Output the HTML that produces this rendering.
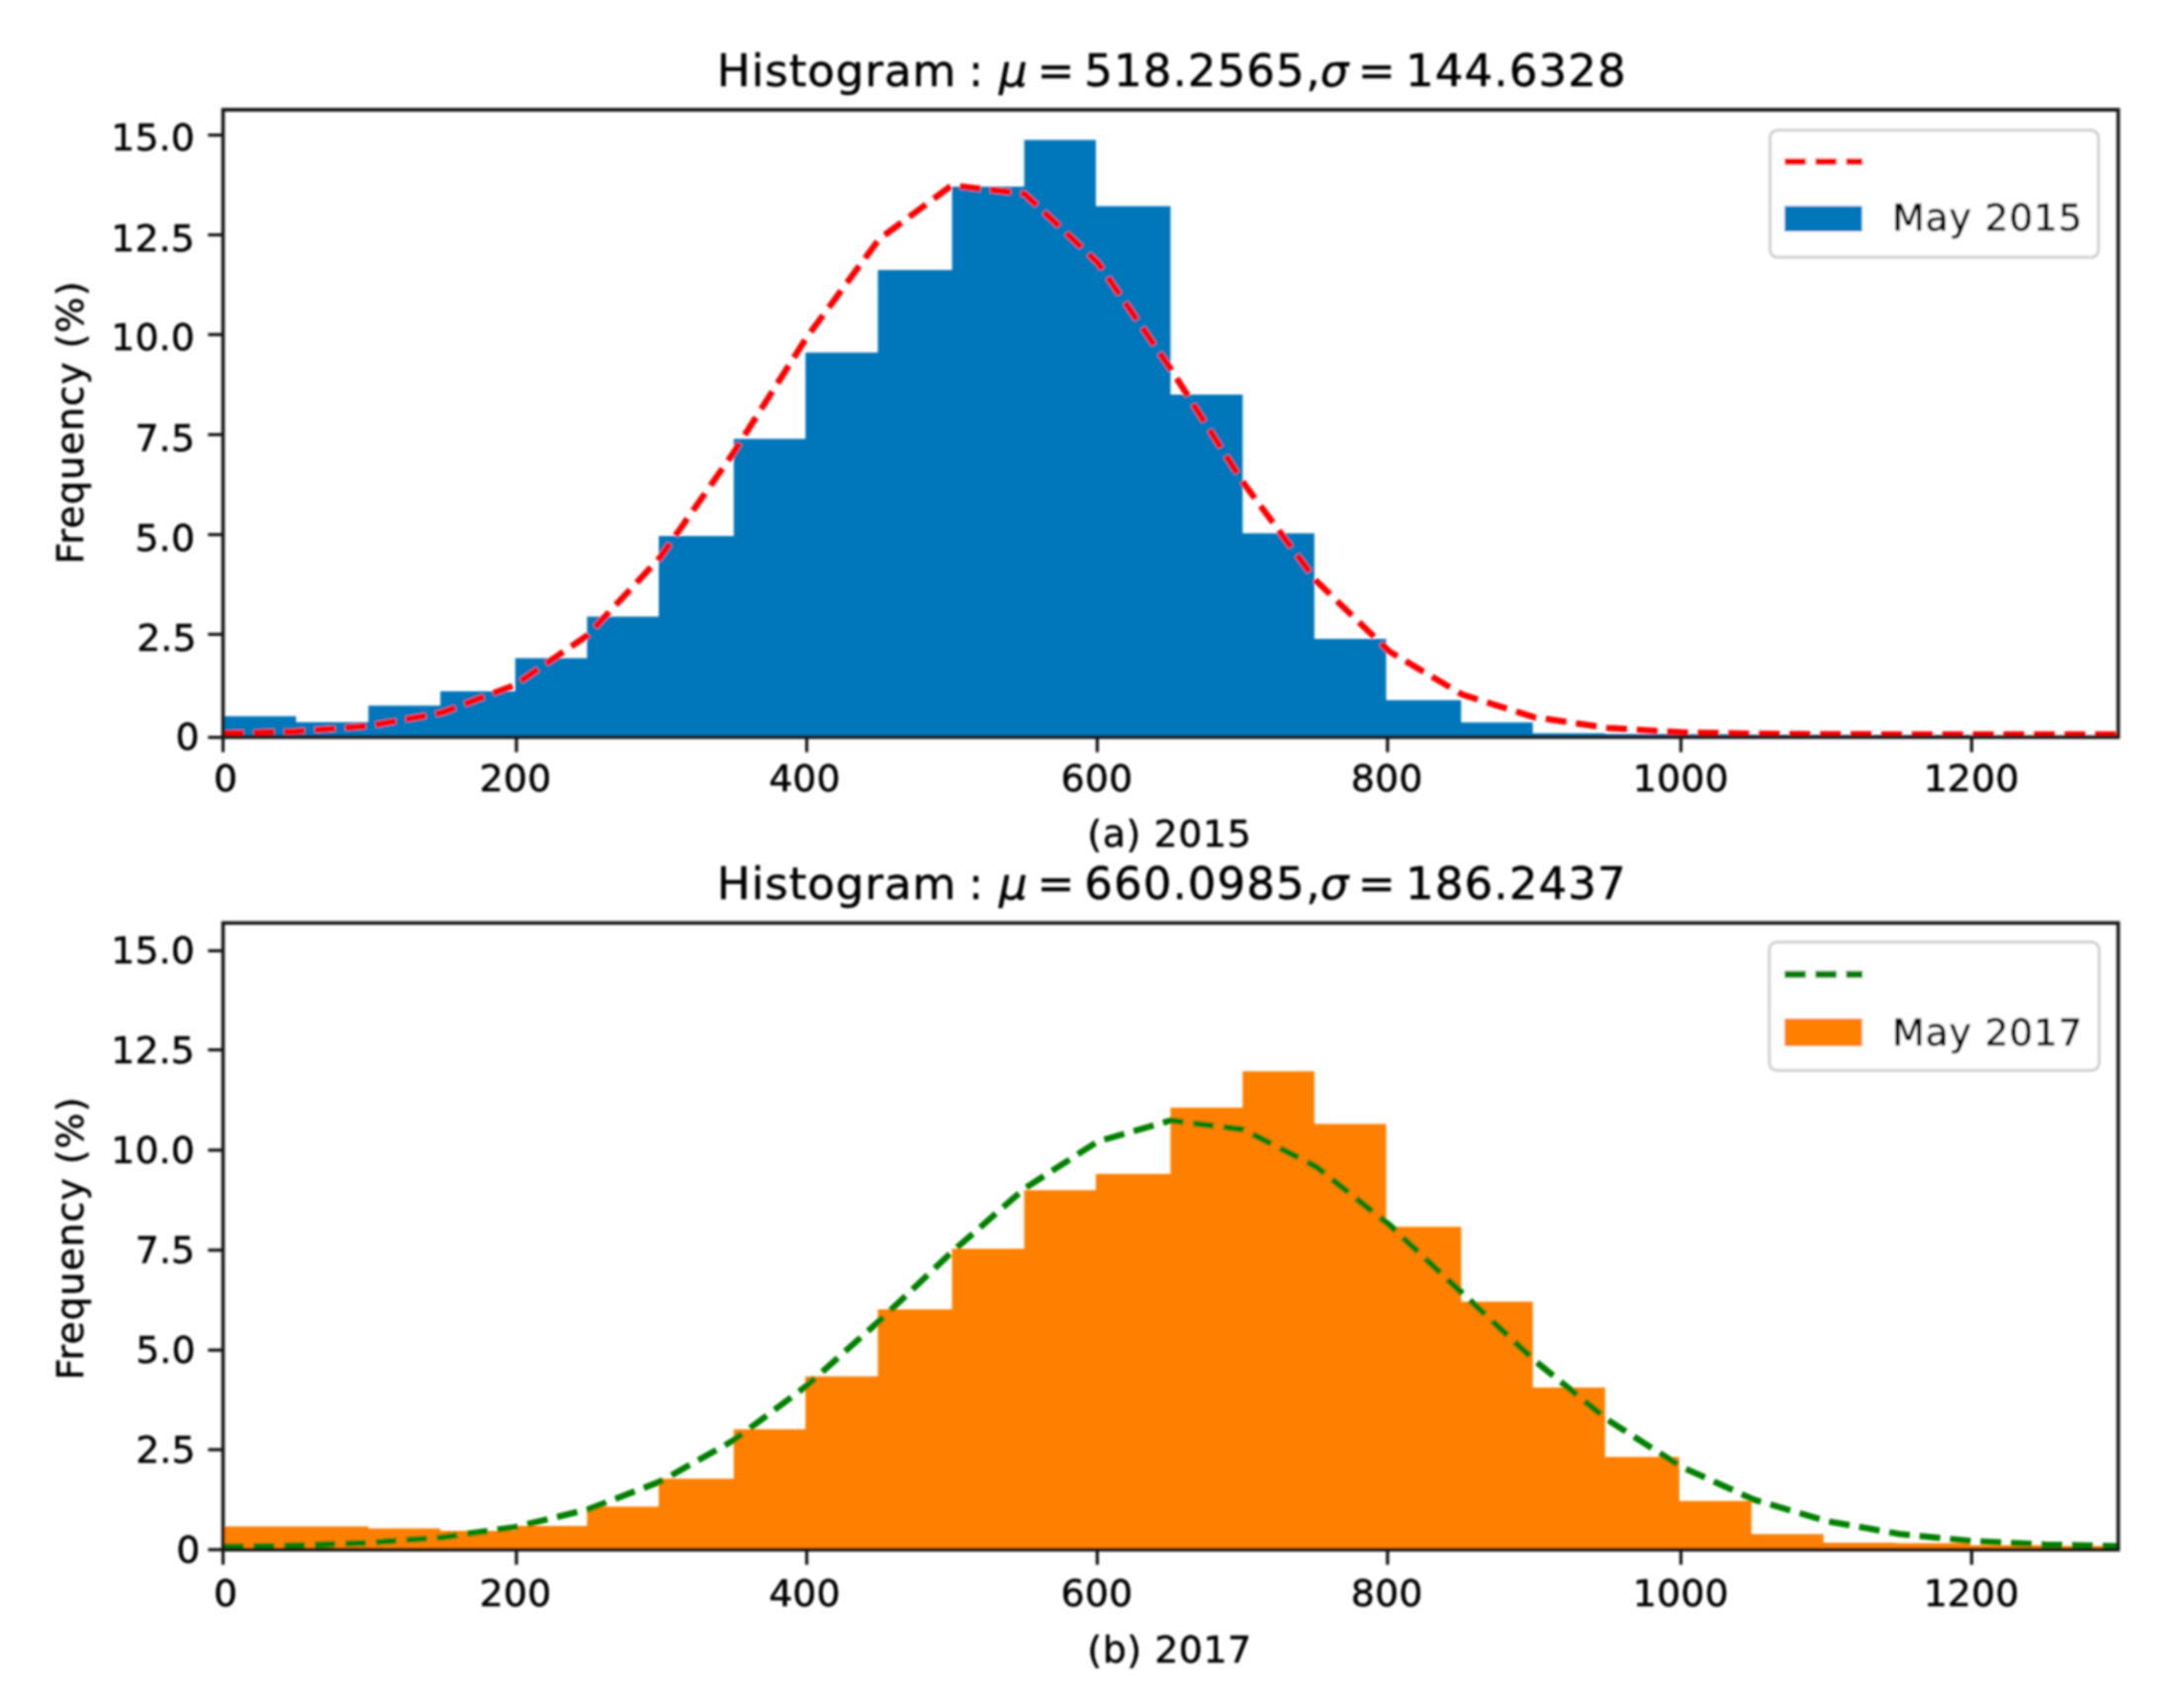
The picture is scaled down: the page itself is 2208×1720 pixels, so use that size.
<!DOCTYPE html>
<html lang="en"><head><meta charset="utf-8"><title>Histogram 2015 vs 2017</title>
<style>
html,body{margin:0;padding:0;background:#fff;}
body{width:2208px;height:1720px;overflow:hidden;}
svg{display:block;}
svg text{font-family:"DejaVu Sans", "Liberation Sans", sans-serif;stroke:#000;stroke-width:0.5px;stroke-linejoin:round;}
</style></head><body>
<svg width="2208" height="1720" viewBox="0 0 2208 1720" font-family='"DejaVu Sans", "Liberation Sans", sans-serif' fill="#000000">
<defs><filter id="soft" x="0" y="0" width="2208" height="1720" filterUnits="userSpaceOnUse"><feGaussianBlur stdDeviation="0.85"/></filter></defs>
<rect width="2208" height="1720" fill="#ffffff"/>
<g filter="url(#soft)">
<clipPath id="clipa"><rect x="225.5" y="111.0" width="1916.00" height="634.40"/></clipPath>
<polygon clip-path="url(#clipa)" fill="#0077bb" points="225.5,745.4 225.5,724.3 299.3,724.3 299.3,730.3 372.4,730.3 372.4,713.5 445.2,713.5 445.2,699.1 520.9,699.1 520.9,665.6 593.5,665.6 593.5,623.6 666.0,623.6 666.0,542.0 741.8,542.0 741.8,443.7 814.3,443.7 814.3,356.6 887.5,356.6 887.5,272.9 962.5,272.9 962.5,188.7 1035.5,188.7 1035.5,141.4 1107.9,141.4 1107.9,208.4 1183.4,208.4 1183.4,399.0 1256.3,399.0 1256.3,539.3 1328.8,539.3 1328.8,646.1 1401.4,646.1 1401.4,707.9 1477.2,707.9 1477.2,730.4 1549.6,730.4 1549.6,741.4 1622.7,741.4 1622.7,742.2 1697.7,742.2 1697.7,742.6 1770.7,742.6 1770.7,743.0 1843.5,743.0 1843.5,743.3 1916.3,743.3 1916.3,743.6 1991.8,743.6 1991.8,745.4 2064.6,745.4 2064.6,745.4 2141.5,745.4 2141.5,745.4"/>
<polyline clip-path="url(#clipa)" fill="none" stroke="#ff0000" stroke-width="6.3" stroke-dasharray="21 9.9" stroke-linejoin="round" points="225.50,741.69 299.19,739.64 372.88,734.05 446.58,720.71 520.27,692.87 593.96,642.37 667.65,563.33 741.35,458.07 815.04,341.89 888.73,241.83 962.42,187.29 1036.12,196.17 1109.81,265.47 1183.50,372.92 1257.19,488.43 1330.88,587.54 1404.58,658.66 1478.27,702.27 1551.96,725.41 1625.65,736.10 1699.35,740.42 1773.04,741.95 1846.73,742.43 1920.42,742.56 1994.12,742.59 2067.81,742.60 2141.50,742.60"/>
<line x1="225.50" y1="745.4" x2="225.50" y2="760.60" stroke="#141414" stroke-width="3.2"/>
<text x="228.05" y="800.20" font-size="37.9" letter-spacing="0.1" text-anchor="middle">0</text>
<line x1="522.10" y1="745.4" x2="522.10" y2="760.60" stroke="#141414" stroke-width="3.2"/>
<text x="521.05" y="800.20" font-size="37.9" letter-spacing="0.1" text-anchor="middle">200</text>
<line x1="815.60" y1="745.4" x2="815.60" y2="760.60" stroke="#141414" stroke-width="3.2"/>
<text x="813.45" y="800.20" font-size="37.9" letter-spacing="0.1" text-anchor="middle">400</text>
<line x1="1109.30" y1="745.4" x2="1109.30" y2="760.60" stroke="#141414" stroke-width="3.2"/>
<text x="1108.85" y="800.20" font-size="37.9" letter-spacing="0.1" text-anchor="middle">600</text>
<line x1="1402.80" y1="745.4" x2="1402.80" y2="760.60" stroke="#141414" stroke-width="3.2"/>
<text x="1402.05" y="800.20" font-size="37.9" letter-spacing="0.1" text-anchor="middle">800</text>
<line x1="1699.40" y1="745.4" x2="1699.40" y2="760.60" stroke="#141414" stroke-width="3.2"/>
<text x="1699.25" y="800.20" font-size="37.9" letter-spacing="0.1" text-anchor="middle">1000</text>
<line x1="1993.30" y1="745.4" x2="1993.30" y2="760.60" stroke="#141414" stroke-width="3.2"/>
<text x="1993.05" y="800.20" font-size="37.9" letter-spacing="0.1" text-anchor="middle">1200</text>
<line x1="210.30" y1="136.60" x2="225.5" y2="136.60" stroke="#141414" stroke-width="3.2"/>
<text x="197.10" y="152.20" font-size="37.9" letter-spacing="0.1" text-anchor="end">15.0</text>
<line x1="210.30" y1="237.50" x2="225.5" y2="237.50" stroke="#141414" stroke-width="3.2"/>
<text x="197.10" y="253.50" font-size="37.9" letter-spacing="0.1" text-anchor="end">12.5</text>
<line x1="210.30" y1="338.30" x2="225.5" y2="338.30" stroke="#141414" stroke-width="3.2"/>
<text x="197.10" y="354.40" font-size="37.9" letter-spacing="0.1" text-anchor="end">10.0</text>
<line x1="210.30" y1="439.50" x2="225.5" y2="439.50" stroke="#141414" stroke-width="3.2"/>
<text x="197.10" y="455.50" font-size="37.9" letter-spacing="0.1" text-anchor="end">7.5</text>
<line x1="210.30" y1="540.60" x2="225.5" y2="540.60" stroke="#141414" stroke-width="3.2"/>
<text x="197.10" y="556.70" font-size="37.9" letter-spacing="0.1" text-anchor="end">5.0</text>
<line x1="210.30" y1="641.40" x2="225.5" y2="641.40" stroke="#141414" stroke-width="3.2"/>
<text x="198.70" y="657.60" font-size="37.9" letter-spacing="0.1" text-anchor="end">2.5</text>
<line x1="210.30" y1="745.60" x2="225.5" y2="745.60" stroke="#141414" stroke-width="3.2"/>
<text x="201.70" y="758.40" font-size="37.9" letter-spacing="0.1" text-anchor="end">0</text>
<rect x="225.5" y="111.0" width="1916.00" height="634.40" fill="none" stroke="#141414" stroke-width="3.6"/>
<text transform="translate(84,427.00) rotate(-90)" font-size="37.9" letter-spacing="1.05" text-anchor="middle">Frequency (%)</text>
<text x="1099.34" y="856.20" font-size="37.9" letter-spacing="0.610">(a) 2015</text>
<text x="724.78" y="87.40" font-size="45.0" letter-spacing="1.025">Histogram</text>
<text x="979.03" y="87.40" font-size="45.0">:</text>
<text x="1009.99" y="87.40" font-size="45.0" font-style="italic">μ</text>
<text x="1048.43" y="87.40" font-size="45.0">=</text>
<text x="1096.13" y="87.40" font-size="45.0" letter-spacing="1.127">518.2565</text>
<text x="1320.33" y="87.40" font-size="45.0">,</text>
<text x="1334.75" y="87.40" font-size="45.0" font-style="italic">σ</text>
<text x="1373.03" y="87.40" font-size="45.0">=</text>
<text x="1421.06" y="87.40" font-size="45.0" letter-spacing="1.129">144.6328</text>
<rect x="1789.5" y="131.60" width="332.0" height="128.6" rx="7.5" ry="7.5" fill="#ffffff" fill-opacity="0.8" stroke="#d3d3d3" stroke-width="3.2"/>
<line x1="1804.3" y1="163.40" x2="1883" y2="163.40" stroke="#ff0000" stroke-width="6.8999999999999995" stroke-dasharray="21.3 9.8"/>
<rect x="1804.3" y="208.40" width="78.2" height="25.60" fill="#0077bb"/>
<text x="1913.08" y="233.30" font-size="37.9" letter-spacing="0.740">May 2015</text>
<clipPath id="clipb"><rect x="225.5" y="933.3" width="1916.00" height="633.70"/></clipPath>
<polygon clip-path="url(#clipb)" fill="#ff7f00" points="225.5,1567.0 225.5,1543.5 299.3,1543.5 299.3,1543.5 372.4,1543.5 372.4,1545.5 445.2,1545.5 445.2,1548.0 520.9,1548.0 520.9,1543.0 593.5,1543.0 593.5,1523.4 666.0,1523.4 666.0,1495.2 741.8,1495.2 741.8,1445.3 814.3,1445.3 814.3,1391.7 887.5,1391.7 887.5,1324.0 962.5,1324.0 962.5,1262.8 1035.5,1262.8 1035.5,1203.6 1107.9,1203.6 1107.9,1187.0 1183.4,1187.0 1183.4,1120.0 1256.3,1120.0 1256.3,1083.3 1328.8,1083.3 1328.8,1136.5 1401.4,1136.5 1401.4,1240.5 1477.2,1240.5 1477.2,1316.2 1549.6,1316.2 1549.6,1403.0 1622.7,1403.0 1622.7,1473.3 1697.7,1473.3 1697.7,1517.8 1770.7,1517.8 1770.7,1551.3 1843.5,1551.3 1843.5,1559.9 1916.3,1559.9 1916.3,1560.6 1991.8,1560.6 1991.8,1562.4 2064.6,1562.4 2064.6,1563.2 2141.5,1563.2 2141.5,1567.0"/>
<polyline clip-path="url(#clipb)" fill="none" stroke="#008000" stroke-width="6.3" stroke-dasharray="21 9.9" stroke-linejoin="round" points="225.50,1563.89 299.19,1562.68 372.88,1560.00 446.58,1554.54 520.27,1544.25 593.96,1526.41 667.65,1498.00 741.35,1456.58 815.04,1401.63 888.73,1335.85 962.42,1265.86 1036.12,1201.61 1109.81,1154.23 1183.50,1132.93 1257.19,1142.10 1330.88,1179.85 1404.58,1238.59 1478.27,1307.58 1551.96,1376.08 1625.65,1435.94 1699.35,1482.92 1773.04,1516.37 1846.73,1538.13 1920.42,1551.10 1994.12,1558.23 2067.81,1561.83 2141.50,1563.52"/>
<line x1="225.50" y1="1567.0" x2="225.50" y2="1582.20" stroke="#141414" stroke-width="3.2"/>
<text x="228.05" y="1623.90" font-size="37.9" letter-spacing="0.1" text-anchor="middle">0</text>
<line x1="522.10" y1="1567.0" x2="522.10" y2="1582.20" stroke="#141414" stroke-width="3.2"/>
<text x="521.05" y="1623.90" font-size="37.9" letter-spacing="0.1" text-anchor="middle">200</text>
<line x1="815.60" y1="1567.0" x2="815.60" y2="1582.20" stroke="#141414" stroke-width="3.2"/>
<text x="813.45" y="1623.90" font-size="37.9" letter-spacing="0.1" text-anchor="middle">400</text>
<line x1="1109.30" y1="1567.0" x2="1109.30" y2="1582.20" stroke="#141414" stroke-width="3.2"/>
<text x="1108.85" y="1623.90" font-size="37.9" letter-spacing="0.1" text-anchor="middle">600</text>
<line x1="1402.80" y1="1567.0" x2="1402.80" y2="1582.20" stroke="#141414" stroke-width="3.2"/>
<text x="1402.05" y="1623.90" font-size="37.9" letter-spacing="0.1" text-anchor="middle">800</text>
<line x1="1699.40" y1="1567.0" x2="1699.40" y2="1582.20" stroke="#141414" stroke-width="3.2"/>
<text x="1699.25" y="1623.90" font-size="37.9" letter-spacing="0.1" text-anchor="middle">1000</text>
<line x1="1993.30" y1="1567.0" x2="1993.30" y2="1582.20" stroke="#141414" stroke-width="3.2"/>
<text x="1993.05" y="1623.90" font-size="37.9" letter-spacing="0.1" text-anchor="middle">1200</text>
<line x1="210.30" y1="961.40" x2="225.5" y2="961.40" stroke="#141414" stroke-width="3.2"/>
<text x="197.10" y="974.40" font-size="37.9" letter-spacing="0.1" text-anchor="end">15.0</text>
<line x1="210.30" y1="1061.60" x2="225.5" y2="1061.60" stroke="#141414" stroke-width="3.2"/>
<text x="197.10" y="1075.30" font-size="37.9" letter-spacing="0.1" text-anchor="end">12.5</text>
<line x1="210.30" y1="1163.00" x2="225.5" y2="1163.00" stroke="#141414" stroke-width="3.2"/>
<text x="197.10" y="1176.10" font-size="37.9" letter-spacing="0.1" text-anchor="end">10.0</text>
<line x1="210.30" y1="1264.10" x2="225.5" y2="1264.10" stroke="#141414" stroke-width="3.2"/>
<text x="197.30" y="1276.80" font-size="37.9" letter-spacing="0.1" text-anchor="end">7.5</text>
<line x1="210.30" y1="1365.20" x2="225.5" y2="1365.20" stroke="#141414" stroke-width="3.2"/>
<text x="197.70" y="1378.00" font-size="37.9" letter-spacing="0.1" text-anchor="end">5.0</text>
<line x1="210.30" y1="1465.90" x2="225.5" y2="1465.90" stroke="#141414" stroke-width="3.2"/>
<text x="197.70" y="1478.80" font-size="37.9" letter-spacing="0.1" text-anchor="end">2.5</text>
<line x1="210.30" y1="1567.00" x2="225.5" y2="1567.00" stroke="#141414" stroke-width="3.2"/>
<text x="202.50" y="1579.70" font-size="37.9" letter-spacing="0.1" text-anchor="end">0</text>
<rect x="225.5" y="933.3" width="1916.00" height="633.70" fill="none" stroke="#141414" stroke-width="3.6"/>
<text transform="translate(84,1252.00) rotate(-90)" font-size="37.9" letter-spacing="1.05" text-anchor="middle">Frequency (%)</text>
<text x="1099.34" y="1681.00" font-size="37.9" letter-spacing="0.538">(b) 2017</text>
<text x="724.78" y="909.00" font-size="45.0" letter-spacing="1.025">Histogram</text>
<text x="979.03" y="909.00" font-size="45.0">:</text>
<text x="1009.99" y="909.00" font-size="45.0" font-style="italic">μ</text>
<text x="1048.43" y="909.00" font-size="45.0">=</text>
<text x="1096.13" y="909.00" font-size="45.0" letter-spacing="1.127">660.0985</text>
<text x="1320.33" y="909.00" font-size="45.0">,</text>
<text x="1334.75" y="909.00" font-size="45.0" font-style="italic">σ</text>
<text x="1373.03" y="909.00" font-size="45.0">=</text>
<text x="1421.06" y="909.00" font-size="45.0" letter-spacing="1.129">186.2437</text>
<rect x="1788.8" y="952.60" width="333.4" height="129.7" rx="7.5" ry="7.5" fill="#ffffff" fill-opacity="0.8" stroke="#d3d3d3" stroke-width="3.2"/>
<line x1="1804.3" y1="985.30" x2="1883" y2="985.30" stroke="#008000" stroke-width="6.8999999999999995" stroke-dasharray="21.3 9.8"/>
<rect x="1804.3" y="1029.90" width="78.2" height="27.90" fill="#ff7f00"/>
<text x="1913.08" y="1057.30" font-size="37.9" letter-spacing="0.740">May 2017</text>
</g>
</svg>
</body></html>
